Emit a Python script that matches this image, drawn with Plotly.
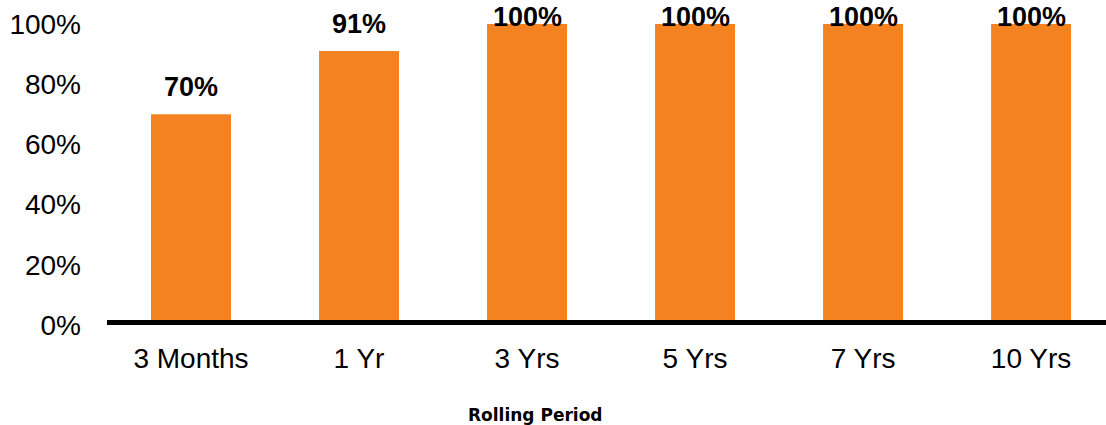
import plotly.graph_objects as go

categories = ["3 Months", "1 Yr", "3 Yrs", "5 Yrs", "7 Yrs", "10 Yrs"]
values = [70, 91, 100, 100, 100, 100]
labels = ["70%", "91%", "100%", "100%", "100%", "100%"]
y_ticks = [0, 20, 40, 60, 80, 100]
y_tick_text = ["0%", "20%", "40%", "60%", "80%", "100%"]

ORANGE = "#F58220"
Y_MAX = 100

fig = go.Figure()
fig.add_trace(go.Bar(x=categories, y=values, marker=dict(color=ORANGE, line=dict(width=0)),
                     hoverinfo="skip"))

for c, v, t in zip(categories, values, labels):
    fig.add_annotation(x=c, xref="x", yref="paper", y=min(v + 9, 102.3) / Y_MAX,
                       text="<b>%s</b>" % t, showarrow=False,
                       yanchor="middle", xanchor="center",
                       font=dict(family="Liberation Sans, Arial", size=27, color="black"))

fig.add_shape(type="line", xref="paper", x0=0, x1=1, yref="y", y0=0, y1=0,
              line=dict(color="black", width=10), layer="above")

fig.add_annotation(xref="paper", yref="paper", x=(535 - 107) / 999, y=-0.30, text="<b>Rolling Period</b>",
                   showarrow=False, xanchor="center", yanchor="middle",
                   font=dict(family="DejaVu Sans", size=17, color="black"))

fig.update_layout(
    width=1106, height=425,
    margin=dict(l=107, r=0, t=24, b=100),
    plot_bgcolor="white", paper_bgcolor="white",
    bargap=0.524, showlegend=False,
    xaxis=dict(type="category", range=[-0.5, 5.446], showgrid=False, showline=False, zeroline=False,
               ticks="", tickfont=dict(family="Liberation Sans, Arial", size=28, color="black"),
               ticklabelstandoff=14),
    yaxis=dict(range=[0, Y_MAX], tickvals=y_ticks, ticktext=y_tick_text, showgrid=False,
               showline=False, zeroline=False, ticks="",
               tickfont=dict(family="Liberation Sans, Arial", size=28, color="black"),
               ticklabelstandoff=25),
)

fig.write_html("out.html")
